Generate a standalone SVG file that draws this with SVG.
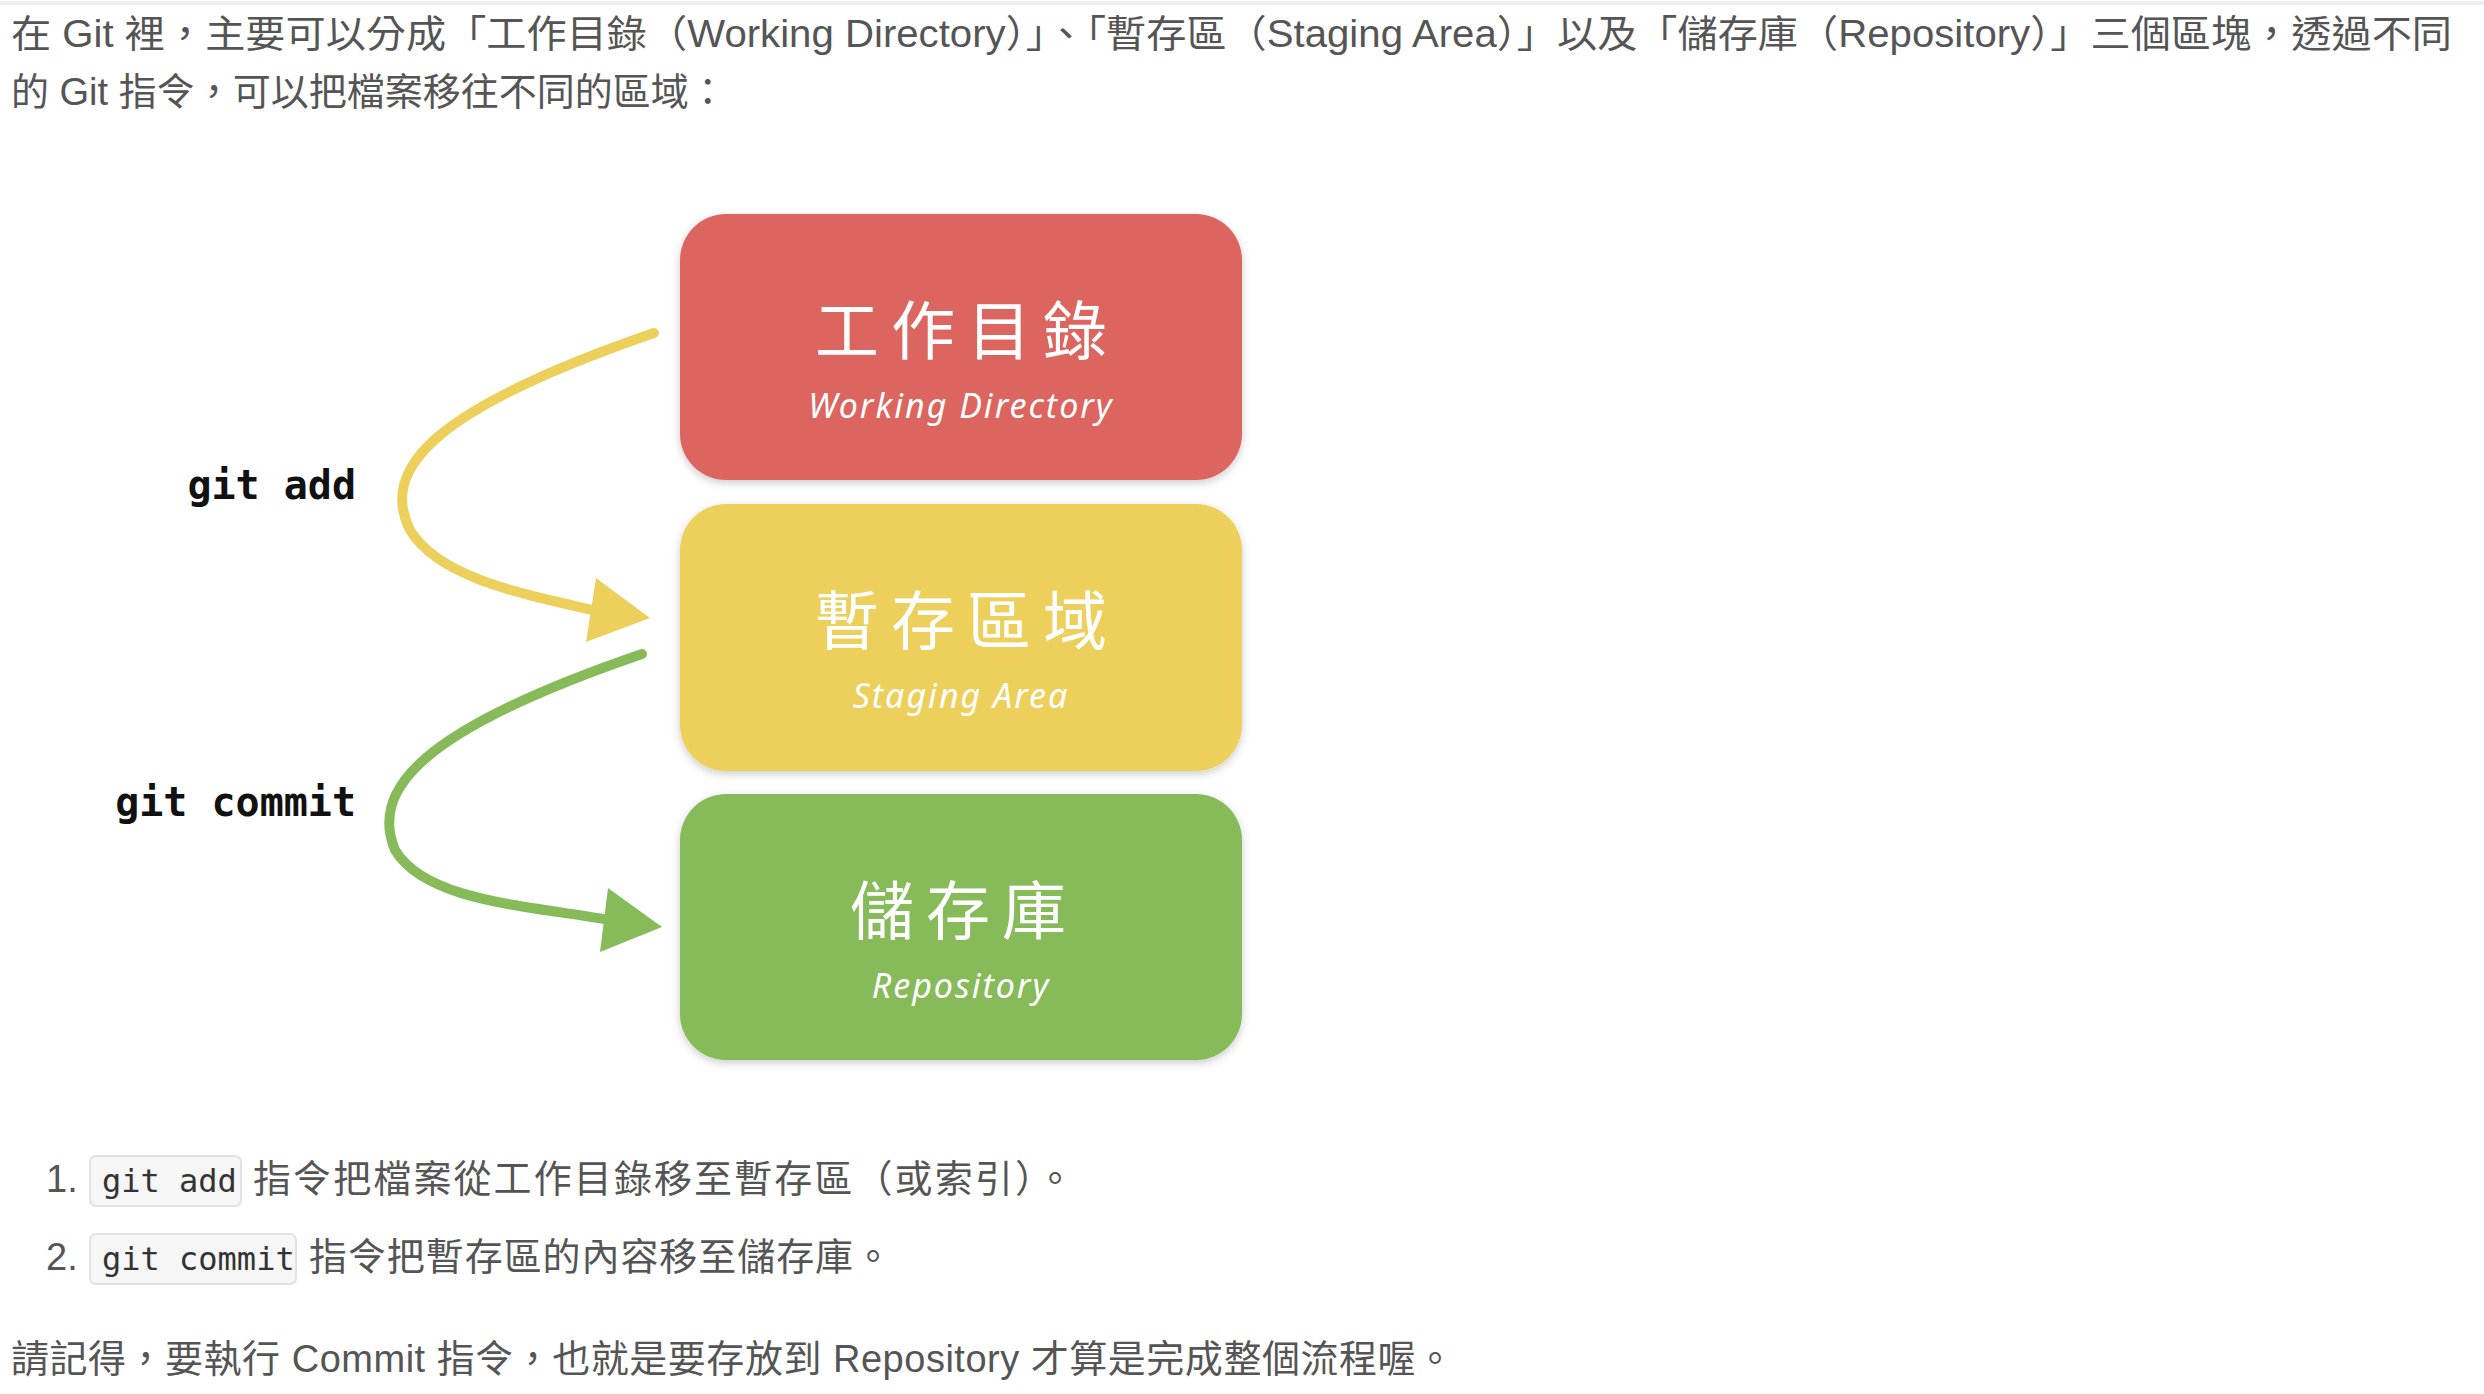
<svg xmlns="http://www.w3.org/2000/svg" width="2484" height="1394" viewBox="0 0 2484 1394">
<style>
.body{font-family:"Liberation Sans","Noto Sans CJK TC",sans-serif;font-size:38px;fill:#555}
.code{font-family:"DejaVu Sans Mono","Liberation Mono",monospace;font-size:32px;fill:#333}
.cmd{font-family:"DejaVu Sans Mono","Liberation Mono",monospace;font-size:40px;font-weight:bold;fill:#111;text-anchor:end}
.title{font-family:"Noto Sans CJK TC",sans-serif;font-size:64px;fill:#fff;text-anchor:middle;letter-spacing:12px}
.sub{font-family:"Noto Sans","DejaVu Sans",sans-serif;font-style:italic;font-size:34px;fill:#fff;text-anchor:middle;letter-spacing:2px}
.cb{fill:#f6f6f6;stroke:#e2e2e2;stroke-width:2}
</style>
<defs>
<filter id="sh" x="-10%" y="-10%" width="120%" height="130%"><feDropShadow dx="0" dy="3" stdDeviation="4" flood-color="#000" flood-opacity="0.2"/></filter>
</defs>
<rect width="2484" height="1394" fill="#fff"/>
<line x1="0" y1="3" x2="2484" y2="3" stroke="#eee" stroke-width="4"/>
<text class="body" x="11" y="47" textLength="2441" lengthAdjust="spacingAndGlyphs">在 Git 裡，主要可以分成「工作目錄（Working Directory）」、「暫存區（Staging Area）」以及「儲存庫（Repository）」三個區塊，透過不同</text>
<text class="body" x="11" y="105">的 Git 指令，可以把檔案移往不同的區域：</text>
<g id="working"><rect x="680" y="214" width="562" height="266" rx="46" fill="#dc6560" filter="url(#sh)"/><text class="title" x="967" y="354">工作目錄</text><text class="sub" x="961" y="418">Working Directory</text></g>
<g id="staging"><rect x="680" y="504" width="562" height="267" rx="46" fill="#edd05b" filter="url(#sh)"/><text class="title" x="967" y="644">暫存區域</text><text class="sub" x="961" y="708">Staging Area</text></g>
<g id="repo"><rect x="680" y="794" width="562" height="266" rx="46" fill="#87bb5a" filter="url(#sh)"/><text class="title" x="964" y="934">儲存庫</text><text class="sub" x="961" y="998">Repository</text></g>
<g id="connectors" fill="none" stroke-linecap="round">
<path d="M654,333 C430,410 380,470 410,530 C440,580 530,595 600,612" stroke="#edd05b" stroke-width="10"/>
<polygon points="650,618 596,578 586,642" fill="#edd05b"/>
<path d="M642,654 C420,730 370,790 395,850 C425,900 520,905 610,920" stroke="#87bb5a" stroke-width="10"/>
<polygon points="662,927 608,888 600,952" fill="#87bb5a"/>
</g>
<text class="cmd" x="356" y="499">git add</text>
<text class="cmd" x="356" y="816">git commit</text>
<text class="body" x="46" y="1192">1.</text>
<rect class="cb" x="90" y="1156" width="151" height="50" rx="6"/>
<text class="code" x="102" y="1192">git add</text>
<text class="body" x="253" y="1192" textLength="821" lengthAdjust="spacing">指令把檔案從工作目錄移至暫存區（或索引）。</text>
<text class="body" x="46" y="1270">2.</text>
<rect class="cb" x="90" y="1234" width="206" height="50" rx="6"/>
<text class="code" x="102" y="1270">git commit</text>
<text class="body" x="309" y="1270" textLength="583" lengthAdjust="spacing">指令把暫存區的內容移至儲存庫。</text>
<text class="body" x="11" y="1372" textLength="1443" lengthAdjust="spacing">請記得，要執行 Commit 指令，也就是要存放到 Repository 才算是完成整個流程喔。</text>
</svg>
